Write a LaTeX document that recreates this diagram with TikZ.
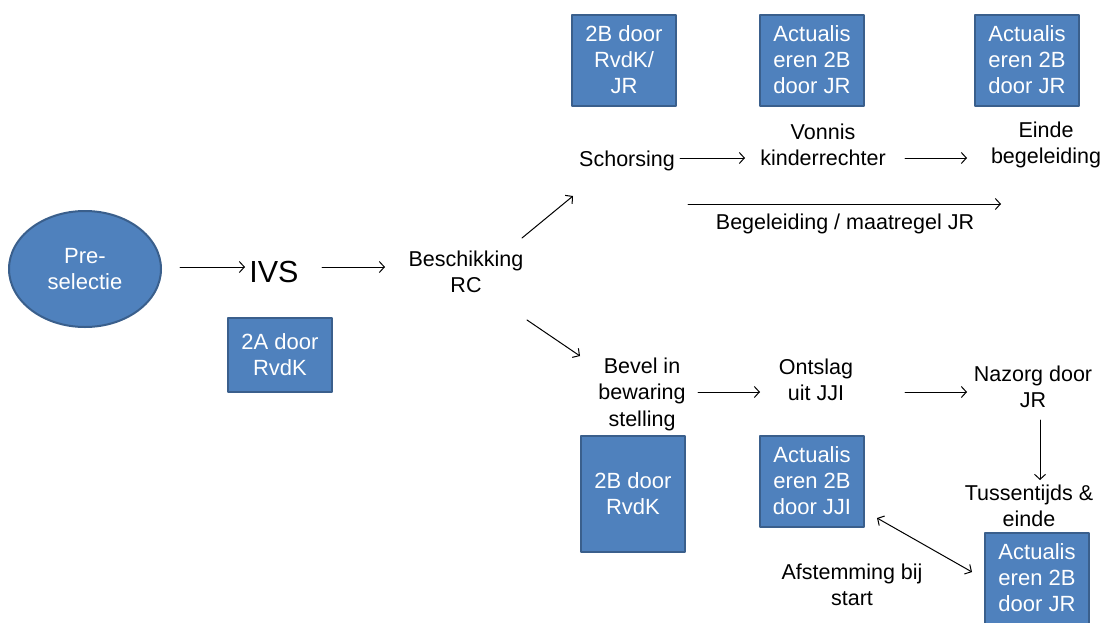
\documentclass[tikz,border=0pt]{standalone}
\usepackage{fontspec}
\setmainfont{Liberation Sans}
\usetikzlibrary{arrows.meta}
\usetikzlibrary{positioning}
\usetikzlibrary{shapes.geometric}
\definecolor{blokblauw}{HTML}{4F81BD}
\definecolor{blokrand}{HTML}{3A5F8C}
\tikzset{
  stap/.style={align=center, inner sep=2pt, font=\fontsize{21.5}{26.5}\selectfont},
  blok/.style={draw=blokrand, fill=blokblauw, line width=2pt, text=white, align=center,
    inner sep=0pt, minimum width=104, minimum height=91, font=\fontsize{22}{26}\selectfont},
  pijl/.style={->, line width=1pt},
}
\begin{document}
\begin{tikzpicture}[x=1pt, y=-1pt, line cap=round, line join=round,
    >={Straight Barb[length=5pt, width=11pt]}]
  \clip (0,0) rectangle (1105,622);
  %--- start
    \node[ellipse, draw=blokrand, fill=blokblauw, line width=2pt, text=white, align=center,
      minimum width=152, minimum height=116, font=\fontsize{22}{26}\selectfont] (pre) at (85,269) {Pre-\\selectie};
    \node[stap, font=\fontsize{30.5}{34}\selectfont] (ivs) at (274,272) {IVS};
    \node[stap] (rc) at (466,272) {Beschikking\\RC};
    \node[blok, minimum height=74] (a2) at (280,355) {2A door\\RvdK};
  %--- schorsing
    \node[stap] (schors) at (627,161) {Schorsing};
    \node[stap] (vonnis) at (823,145) {Vonnis\\kinderrechter};
    \node[stap] (einde) at (1046,145) {Einde\\begeleiding};
    \node[stap] (maatr) at (845,224) {Begeleiding / maatregel JR};
    \coordinate (mr0) at (688,204);
    \coordinate (mr1) at (1001,204);
    \node[blok] (b2jr) at (624,60) {2B door\\RvdK/\\JR};
    \node[blok] (actv) at (812,60) {Actualis\\eren 2B\\door JR};
    \node[blok] (acte) at (1027,60) {Actualis\\eren 2B\\door JR};
  %--- bewaring
    \node[stap] (bevel) at (642,394) {Bevel in\\bewaring\\stelling};
    \node[stap] (ontsl) at (816,380) {Ontslag\\uit JJI};
    \node[stap] (nazorg) at (1033,387) {Nazorg door\\JR};
    \node[stap] (tuss) at (1029,506) {Tussentijds \&\\einde};
    \node[blok, minimum height=116] (b2rk) at (633,494) {2B door\\RvdK};
    \node[blok] (actjji) at (812,481) {Actualis\\eren 2B\\door JJI};
    \node[blok] (actjr) at (1037,578) {Actualis\\eren 2B\\door JR};
    \node[stap] (afst) at (852,585) {Afstemming bij\\start};
  %--- pijlen
    \draw[pijl] ([xshift=95, yshift=2]pre.center) -- ([xshift=-29, yshift=5]ivs.center);
    \draw[pijl] ([xshift=48, yshift=5]ivs.center) -- ([xshift=-81, yshift=5]rc.center);
    \draw[pijl] ([xshift=56, yshift=34]rc.center) -- ([xshift=-54, yshift=-35]schors.center);
    \draw[pijl] ([xshift=61, yshift=-48]rc.center) -- ([xshift=-62, yshift=38]bevel.center);
    \draw[pijl] ([xshift=53, yshift=3]schors.center) -- ([xshift=-78, yshift=-13]vonnis.center);
    \draw[pijl] ([xshift=82, yshift=-13]vonnis.center) -- ([xshift=-79, yshift=-13]einde.center);
    \draw[pijl] (mr0) -- (mr1);
    \draw[pijl] ([xshift=56, yshift=2]bevel.center) -- ([xshift=-56, yshift=-12]ontsl.center);
    \draw[pijl] ([xshift=89, yshift=-12]ontsl.center) -- ([xshift=-66, yshift=-5]nazorg.center);
    \draw[pijl] ([xshift=7, yshift=-33]nazorg.center) -- ([xshift=11, yshift=26]tuss.center);
    \draw[pijl, <->] ([xshift=65, yshift=-37]actjji.center) -- ([xshift=-65, yshift=6]actjr.center);
\end{tikzpicture}
\end{document}
